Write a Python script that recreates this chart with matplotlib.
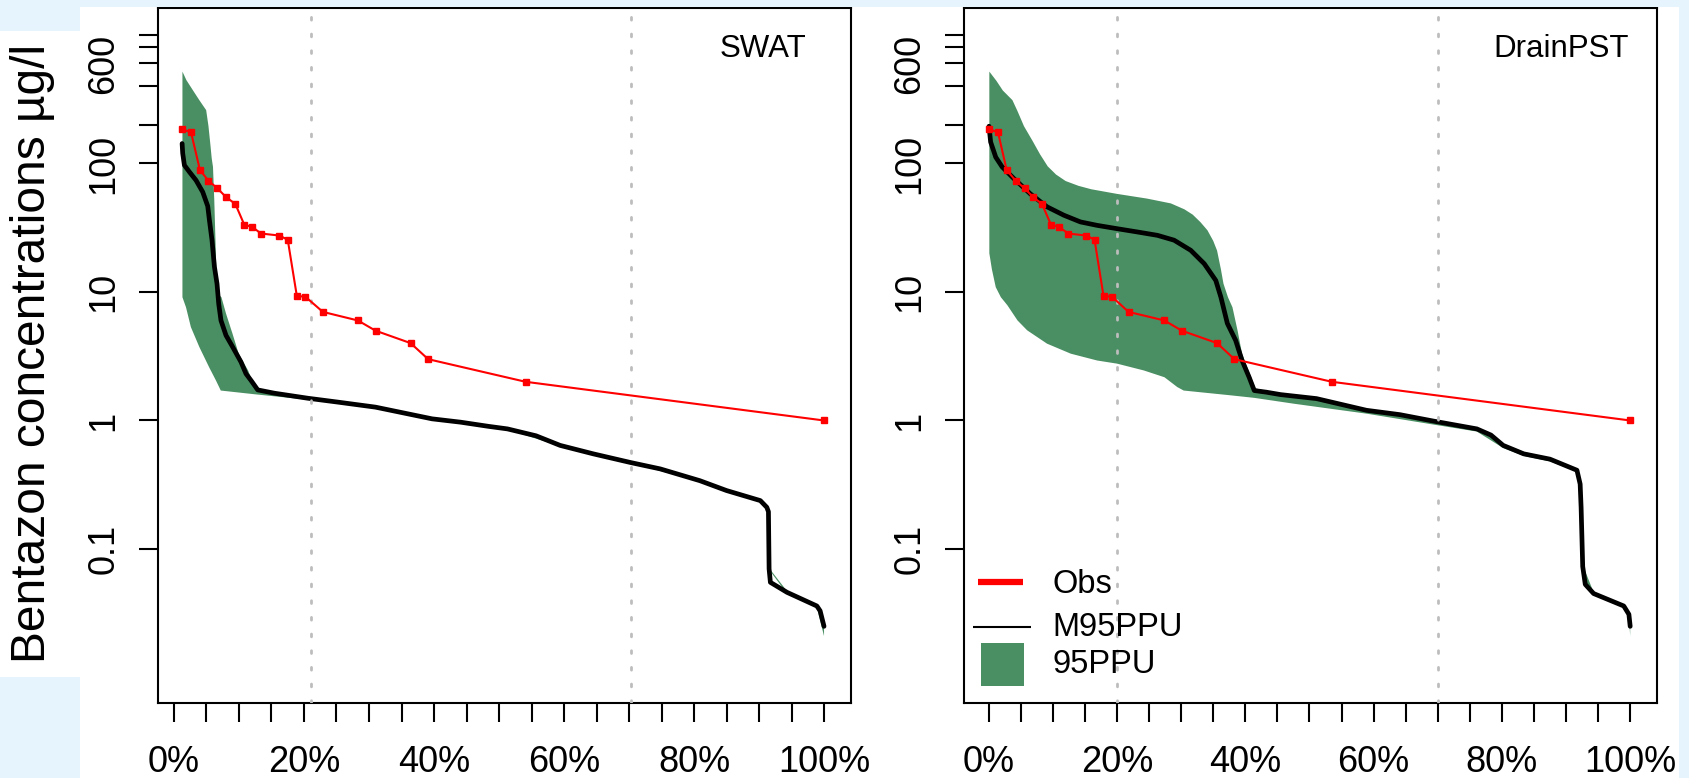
import matplotlib
matplotlib.use("Agg")
import matplotlib.pyplot as plt
import numpy as np
from matplotlib.patches import Rectangle
from matplotlib.lines import Line2D
from matplotlib.ticker import FixedLocator, NullLocator

plt.rcParams['font.family'] = ['Liberation Sans', 'DejaVu Sans']

# ---------------- data ----------------
# x values are exceedance percentages, y values are concentrations (ug/l)
obs_y = [185, 175, 89, 73.5, 64, 54.5, 48.5, 33.5, 32, 28.5, 27.5, 25.5,
         9.3, 9.2, 7.0, 6.0, 5.0, 4.0, 3.0, 2.0, 1.0]
obs_x_swat = [1.23, 2.62, 3.99, 5.29, 6.68, 8.05, 9.43, 10.8, 12.05, 13.4, 16.2,
              17.5, 18.9, 20.2, 22.9, 28.3, 31.0, 36.4, 39.1, 54.1, 100.0]
obs_x_drain = [0.0, 1.45, 2.8, 4.2, 5.6, 6.96, 8.3, 9.7, 11.0, 12.4, 15.2,
               16.5, 17.9, 19.2, 21.8, 27.4, 30.1, 35.6, 38.3, 53.5, 100.0]

# SWAT: M95PPU
m95_x_swat = [1.25, 1.34, 1.60, 2.37, 3.39, 4.42, 5.19, 5.45, 5.85, 6.22, 6.62, 6.88,
              7.23, 8.0, 9.03, 10.31, 11.08, 11.85, 12.88, 15.45, 20.58, 25.2, 31.0,
              39.7, 44.1, 48.4, 51.3, 55.7, 59.4, 64.5, 70.3, 74.8, 80.9, 85.0, 90.2,
              91.2, 91.45, 91.55, 91.75, 94.3, 98.9, 99.4, 100.0]
m95_y_swat = [143, 120, 97, 86, 74, 60, 46.6, 36.2, 25.3, 15.7, 11.6, 8.1,
              6.0, 4.6, 3.73, 2.85, 2.31, 2.05, 1.73, 1.63, 1.49, 1.39, 1.27,
              1.03, 0.97, 0.90, 0.86, 0.76, 0.64, 0.55, 0.47, 0.42, 0.34, 0.285, 0.238,
              0.211, 0.195, 0.070, 0.055, 0.046, 0.036, 0.033, 0.025]
# SWAT: 95PPU band
up_x_swat = [1.3, 1.9, 2.9, 3.9, 4.95, 5.3, 5.6, 5.8, 6.0, 6.2, 6.35, 6.5, 6.7, 7.3,
             8.0, 9.0, 9.95, 11.4, 12.1, 12.9, 15.45, 20.58, 25.2, 31.0, 39.7, 51.3,
             59.4, 70.3, 80.9, 90.2, 91.2, 91.55, 94.3, 98.9, 100.0]
up_y_swat = [519, 446, 372, 311, 260, 196, 140, 110, 94, 51.5, 28.5, 15.6, 9.7, 9.1,
             6.8, 4.74, 3.31, 2.45, 2.0, 1.76, 1.65, 1.51, 1.40, 1.28, 1.04, 0.87,
             0.65, 0.48, 0.345, 0.24, 0.213, 0.071, 0.047, 0.037, 0.026]
lo_x_swat = [1.3, 1.85, 2.6, 3.9, 5.4, 6.45, 7.2, 12.4, 20.58, 31.0, 39.7, 51.3,
             59.4, 70.3, 80.9, 90.2, 91.2, 91.55, 94.3, 98.9, 100.0]
lo_y_swat = [9.1, 7.6, 5.33, 3.73, 2.6, 2.05, 1.71, 1.60, 1.45, 1.25, 1.02, 0.85,
             0.63, 0.465, 0.335, 0.235, 0.209, 0.069, 0.045, 0.035, 0.021]

# DrainPST: M95PPU
m95_x_drain = [0.05, 0.3, 1.1, 2.1, 3.9, 6.5, 9.1, 11.7, 14.3, 16.9, 20.0, 23.2, 26.3,
               28.9, 31.5, 33.6, 35.4, 36.2, 37.2, 38.5, 39.5, 40.6, 41.4, 43.3, 45.5,
               51.1, 58.9, 64.1, 69.3, 76.1, 78.3, 80.2, 83.4, 87.5, 91.7, 92.2, 92.35,
               92.6, 93.0, 94.3, 99.0, 99.8, 100.0]
m95_y_drain = [195, 147, 112, 94, 76.5, 58, 46, 39.6, 35.1, 33, 31.1, 29.3, 27.6,
               25.3, 21.1, 16.6, 12.3, 9.1, 5.7, 4.2, 2.93, 2.17, 1.71, 1.66, 1.59,
               1.48, 1.2, 1.11, 0.99, 0.86, 0.77, 0.64, 0.55, 0.50, 0.41, 0.32, 0.21,
               0.073, 0.053, 0.045, 0.036, 0.031, 0.025]
# DrainPST: 95PPU band
up_x_drain = [0.1, 1.2, 2.2, 3.7, 4.5, 5.5, 6.8, 8.0, 9.2, 10.5, 12.0, 14.0, 16.0, 20.0,
              24.7, 28.4, 30.5, 31.8, 33.0, 34.1, 35.0, 35.6, 36.2, 36.6, 37.3, 38.0,
              38.8, 39.5, 40.3, 41.6, 43.3, 51.1, 58.9, 69.3, 76.1, 80.2, 83.4, 87.5,
              91.7, 92.2, 92.6, 94.3, 99.0, 100.0]
up_y_drain = [519, 440, 370, 311, 255, 195, 151, 118, 95, 82, 73, 67, 63, 58,
              53.3, 48.9, 44, 40, 35, 30.2, 25, 21, 15, 11.6, 9.1, 7.6,
              5.0, 3.3, 2.6, 1.78, 1.69, 1.50, 1.22, 1.0, 0.88, 0.66, 0.57, 0.51,
              0.42, 0.33, 0.075, 0.046, 0.037, 0.026]
lo_x_drain = [0.1, 0.5, 1.1, 1.9, 2.9, 4.5, 6.0, 9.1, 12.8, 16.9, 20.0, 24.2, 27.4,
              29.4, 30.4, 37.7, 41.4, 47.6, 58.9, 69.3, 76.1, 80.2, 83.4, 87.5, 91.7,
              92.2, 92.6, 93.0, 94.3, 99.0, 99.8, 100.0]
lo_y_drain = [20, 15, 10.9, 9.1, 7.9, 6.0, 5.03, 3.96, 3.31, 2.93, 2.77, 2.45, 2.17,
              1.82, 1.71, 1.57, 1.50, 1.35, 1.13, 0.93, 0.82, 0.61, 0.53, 0.48, 0.40,
              0.31, 0.073, 0.052, 0.044, 0.035, 0.030, 0.021]

vlines_swat = [21.1, 70.3]
vlines_drain = [20.0, 70.0]

x_ticks = list(range(0, 101, 5))
x_ticklabels = [f"{v}%" if v % 20 == 0 else "" for v in x_ticks]
y_ticks = [0.1, 1, 10, 100, 200, 400, 600, 800, 1000]
y_ticklabels = ["0.1", "1", "10", "100", "", "", "600", "", ""]

panel_titles = ["SWAT", "DrainPST"]
legend_labels = ["Obs", "M95PPU", "95PPU"]
y_label = "Bentazon concentrations µg/l"

# ---------------- styling ----------------
W, H = 1690, 778
GREEN = '#4A8F63'
RED = '#FF0000'
BLUE = '#E6F4FD'
DOT = '#BDBDBD'

fig = plt.figure(figsize=(W / 100, H / 100), dpi=100, facecolor='white')


def frect(x0, y0, x1, y1, color):
    fig.patches.append(Rectangle((x0 / W, 1 - y1 / H), (x1 - x0) / W, (y1 - y0) / H,
                                 transform=fig.transFigure, facecolor=color,
                                 edgecolor='none', zorder=0))


# slide background pieces
frect(0, 0, W, 7, BLUE)
frect(0, 0, 80, 31, BLUE)
frect(0, 677, 80, H, BLUE)
frect(1679, 0, W, H, BLUE)

ax_top, ax_bot = 8, 703
panels = [
    dict(left=158, xlim=(-2.46, 104.15), ox=obs_x_swat, mx=m95_x_swat, my=m95_y_swat,
         ux=up_x_swat, uy=up_y_swat, lx=lo_x_swat, ly=lo_y_swat, vl=vlines_swat,
         title=panel_titles[0], tx=0.935),
    dict(left=964, xlim=(-3.85, 104.18), ox=obs_x_drain, mx=m95_x_drain, my=m95_y_drain,
         ux=up_x_drain, uy=up_y_drain, lx=lo_x_drain, ly=lo_y_drain, vl=vlines_drain,
         title=panel_titles[1], tx=0.9596),
]

axes = []
for p in panels:
    ax = fig.add_axes([p['left'] / W, 1 - ax_bot / H, 693 / W, (ax_bot - ax_top) / H])
    ax.set_yscale('log')
    ax.set_xlim(*p['xlim'])
    ax.set_ylim(0.00633, 1622)

    bx = np.concatenate([p['ux'], p['lx'][::-1]])
    by = np.concatenate([p['uy'], p['ly'][::-1]])
    ax.fill(bx, by, color=GREEN, lw=0, zorder=1)
    ax.plot(p['mx'], p['my'], color='black', lw=3.4, zorder=2,
            solid_joinstyle='round', solid_capstyle='round')
    for xv in p['vl']:
        ax.axvline(xv, color=DOT, lw=2.0, ls=(0, (1, 5)), zorder=3,
                   dash_capstyle='round')
    ax.plot(p['ox'], obs_y, color=RED, lw=1.5, marker='s', ms=4.3, mec=RED,
            mfc=RED, zorder=4)

    ax.xaxis.set_major_locator(FixedLocator(x_ticks))
    ax.set_xticklabels(x_ticklabels)
    ax.yaxis.set_major_locator(FixedLocator(y_ticks))
    ax.yaxis.set_minor_locator(NullLocator())
    ax.set_yticklabels(y_ticklabels)
    ax.tick_params(axis='both', direction='out', length=14, width=1.5, colors='black',
                   labelsize=26)
    ax.tick_params(axis='x', pad=16.5)
    ax.tick_params(axis='y', pad=12.5, labelrotation=90)
    for lab in ax.get_yticklabels():
        lab.set_va('center')
    for s in ax.spines.values():
        s.set_linewidth(1.5)
        s.set_color('black')

    ax.text(p['tx'], 0.941, p['title'], transform=ax.transAxes, ha='right',
            va='center', fontsize=22.5)
    axes.append(ax)

# legend (right panel)
axr = axes[1]
axr.add_line(Line2D([0.0202, 0.0851], [0.1734, 0.1734], transform=axr.transAxes,
                    color=RED, lw=4.5, solid_capstyle='butt', zorder=5))
axr.add_line(Line2D([0.013, 0.0967], [0.1094, 0.1094], transform=axr.transAxes,
                    color='black', lw=1.5, solid_capstyle='butt', zorder=5))
axr.add_patch(Rectangle((0.0245, 0.0248), 0.0621, 0.062, transform=axr.transAxes,
                        facecolor=GREEN, edgecolor='none', zorder=5))
for yy, lab in zip([0.1700, 0.1087, 0.0547], legend_labels):
    axr.text(0.127, yy, lab, transform=axr.transAxes, ha='left', va='center',
             fontsize=23.5, zorder=6)

# y label (separate slide text)
fig.text(33 / W, 1 - 353 / H, y_label, rotation=90, ha='center', va='center',
         fontsize=34.5)

fig.savefig('out.png', dpi=100, facecolor='white')
